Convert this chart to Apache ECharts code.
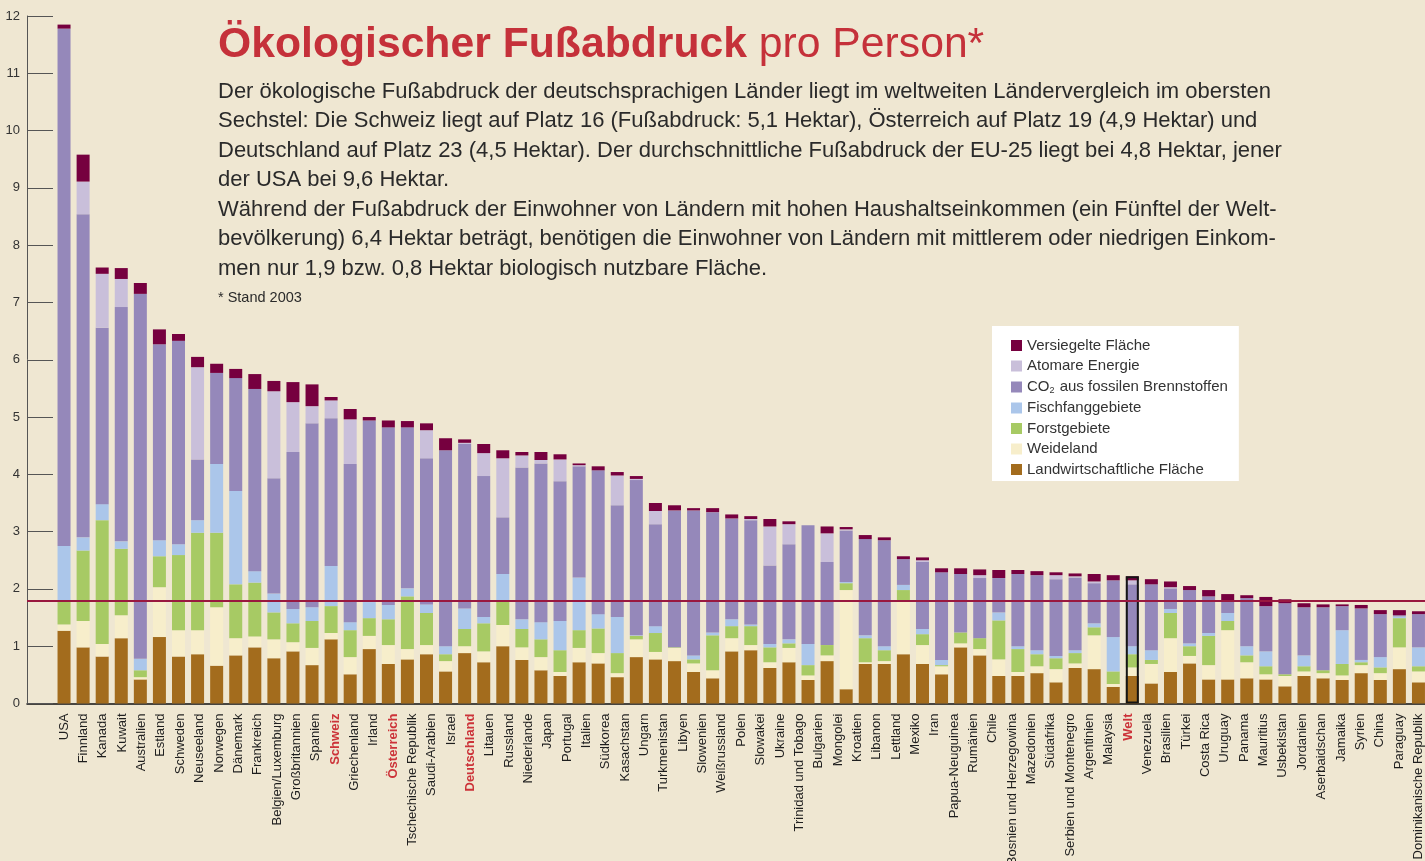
<!DOCTYPE html>
<html><head><meta charset="utf-8">
<script src="https://cdn.jsdelivr.net/npm/echarts@6/dist/echarts.min.js"></script>
<style>html,body{margin:0;padding:0;background:#efe7d2;}#c{width:1425px;height:861px;}</style>
</head><body><div id="c"></div>
<script>
// Country labels (71 labels under 72 bars, as in the original graphic)
const labels = ['USA','Finnland','Kanada','Kuwait','Australien','Estland','Schweden','Neuseeland','Norwegen','Dänemark','Frankreich','Belgien/Luxemburg','Großbritannien','Spanien','Schweiz','Griechenland','Irland','Österreich','Tschechische Republik','Saudi-Arabien','Israel','Deutschland','Litauen','Russland','Niederlande','Japan','Portugal','Italien','Südkorea','Kasachstan','Ungarn','Turkmenistan','Libyen','Slowenien','Weißrussland','Polen','Slowakei','Ukraine','Trinidad und Tobago','Bulgarien','Mongolei','Kroatien','Libanon','Lettland','Mexiko','Iran','Papua-Neuguinea','Rumänien','Chile','Bosnien und Herzegowina','Mazedonien','Südafrika','Serbien und Montenegro','Argentinien','Malaysia','Welt','Venezuela','Brasilien','Türkei','Costa Rica','Uruguay','Panama','Mauritius','Usbekistan','Jordanien','Aserbaidschan','Jamaika','Syrien','China','Paraguay','Dominikanische Republik'];
const highlighted = ['Schweiz','Österreich','Deutschland','Welt'];

// Hectares per person, per component (72 bars)
const agri    = [1.27,0.98,0.82,1.14,0.42,1.16,0.82,0.86,0.66,0.84,0.98,0.79, 0.91,0.67,1.12,0.51,0.95,0.69,0.77,0.86,0.56,0.88,0.72,1.00, 0.76,0.58,0.48,0.72,0.70,0.46,0.81,0.77,0.74,0.55,0.44,0.91, 0.93,0.62,0.72,0.41,0.74,0.25,0.69,0.69,0.86,0.69,0.51,0.98, 0.84,0.48,0.48,0.53,0.37,0.62,0.60,0.29,0.48,0.35,0.55,0.70, 0.42,0.42,0.44,0.42,0.30,0.48,0.44,0.41,0.53,0.41,0.60,0.37];
const pasture = [0.11,0.46,0.22,0.40,0.04,0.87,0.46,0.42,1.02,0.30,0.19,0.33, 0.16,0.30,0.11,0.30,0.23,0.33,0.18,0.16,0.18,0.12,0.19,0.37, 0.22,0.23,0.07,0.25,0.18,0.07,0.31,0.13,0.23,0.15,0.14,0.23, 0.09,0.10,0.25,0.08,0.10,1.73,0.03,0.05,0.94,0.33,0.14,0.07, 0.11,0.29,0.07,0.12,0.23,0.08,0.59,0.05,0.15,0.34,0.59,0.13, 0.25,0.86,0.28,0.09,0.18,0.08,0.09,0.08,0.14,0.12,0.38,0.19];
const forest  = [0.40,1.23,2.16,1.16,0.12,0.54,1.31,1.70,1.30,0.94,0.94,0.47, 0.33,0.47,0.47,0.47,0.31,0.45,0.92,0.56,0.12,0.30,0.49,0.43, 0.32,0.31,0.38,0.31,0.43,0.35,0.06,0.33,0.01,0.07,0.61,0.21, 0.33,0.26,0.08,0.18,0.18,0.12,0.42,0.19,0.18,0.19,0.02,0.19, 0.19,0.68,0.40,0.21,0.19,0.18,0.14,0.22,0.23,0.07,0.44,0.17, 0.51,0.16,0.12,0.14,0.03,0.09,0.05,0.20,0.05,0.10,0.51,0.09];
const fish    = [0.97,0.23,0.28,0.13,0.20,0.28,0.19,0.22,1.20,1.63,0.20,0.33, 0.25,0.24,0.70,0.14,0.28,0.25,0.14,0.15,0.14,0.36,0.11,0.46, 0.17,0.30,0.51,0.92,0.25,0.63,0.01,0.12,0.00,0.07,0.05,0.12, 0.03,0.06,0.07,0.37,0.00,0.02,0.05,0.07,0.09,0.09,0.09,0.00, 0.00,0.14,0.05,0.07,0.04,0.05,0.07,0.60,0.14,0.17,0.07,0.05, 0.05,0.14,0.16,0.26,0.00,0.19,0.00,0.59,0.04,0.18,0.03,0.33];
const co2     = [9.03,5.64,3.08,4.09,6.37,3.42,3.55,1.06,1.59,1.97,3.18,2.01, 2.74,3.21,2.58,2.76,3.17,3.10,2.81,2.55,3.42,2.87,2.46,0.99, 2.65,2.77,2.44,1.94,2.51,1.95,2.71,1.78,2.39,2.53,2.10,1.76, 1.82,1.37,1.66,2.07,1.45,0.90,1.68,1.85,0.45,1.17,1.53,1.02, 1.05,0.60,1.26,1.31,1.34,1.27,0.70,0.99,1.08,1.15,0.36,0.93, 0.64,0.21,0.84,0.79,1.24,0.84,1.10,0.42,0.90,0.75,0.02,0.58];
const nuclear = [0.00,0.57,0.94,0.49,0.00,0.00,0.00,1.61,0.00,0.00,0.00,1.52, 0.87,0.30,0.31,0.78,0.00,0.00,0.00,0.49,0.00,0.02,0.40,1.03, 0.21,0.06,0.38,0.02,0.00,0.52,0.02,0.23,0.00,0.00,0.00,0.00, 0.02,0.68,0.35,0.00,0.50,0.02,0.00,0.00,0.00,0.03,0.00,0.00, 0.05,0.00,0.00,0.00,0.07,0.02,0.03,0.00,0.07,0.00,0.02,0.00, 0.00,0.00,0.00,0.00,0.00,0.00,0.00,0.00,0.00,0.00,0.00,0.00];
const built   = [0.07,0.47,0.11,0.19,0.19,0.26,0.12,0.18,0.16,0.16,0.26,0.18, 0.35,0.38,0.06,0.18,0.06,0.12,0.11,0.12,0.21,0.06,0.16,0.14, 0.06,0.14,0.09,0.03,0.07,0.06,0.05,0.14,0.09,0.04,0.07,0.07, 0.05,0.13,0.05,0.00,0.12,0.04,0.07,0.05,0.05,0.05,0.07,0.10, 0.10,0.14,0.07,0.07,0.05,0.05,0.13,0.09,0.07,0.09,0.10,0.07, 0.11,0.12,0.05,0.16,0.07,0.07,0.05,0.03,0.06,0.07,0.09,0.05];
const worldBarIndex = 56;        // outlined bar
const biocapacity = 1.8;         // red reference line
const yMin = 0, yMax = 12, yStep = 1;

const seriesDefs = [
  {name:'Landwirtschaftliche Fläche', data:agri,    color:'#a36c1d'},
  {name:'Weideland',                  data:pasture, color:'#f7eecb'},
  {name:'Forstgebiete',               data:forest,  color:'#a7ca64'},
  {name:'Fischfanggebiete',           data:fish,    color:'#abc6ea'},
  {name:'CO2 aus fossilen Brennstoffen', data:co2,  color:'#9588ba'},
  {name:'Atomare Energie',            data:nuclear, color:'#c9bfda'},
  {name:'Versiegelte Fläche',         data:built,   color:'#76003f'}
];
const slots = agri.map((_, i) => String(i));
const totals = agri.map((_, i) => seriesDefs.reduce((s, d) => s + d.data[i], 0));

const FONT = '"Liberation Sans", Helvetica, Arial, sans-serif';
const chart = echarts.init(document.getElementById('c'), null, {renderer:'canvas'});

const series = seriesDefs.map(d => ({
  name: d.name, type: 'bar', stack: 'fp', xAxisIndex: 1, yAxisIndex: 1,
  barWidth: 13, barGap: '-100%', data: d.data, itemStyle: {color: d.color}, z: 2, silent: true
}));
series.push({
  name: 'WeltRahmen', type: 'bar', xAxisIndex: 1, yAxisIndex: 1, barWidth: 13, barGap: '-100%',
  data: totals.map((t, i) => i === worldBarIndex ? t : '-'),
  itemStyle: {color: 'rgba(0,0,0,0)', borderColor: '#151515', borderWidth: 2}, z: 4, silent: true
});
series.push({
  name: 'ref', type: 'line', xAxisIndex: 0, yAxisIndex: 0, data: [[0, 0], [1, 0]],
  showSymbol: false, lineStyle: {opacity: 0}, silent: true, z: 6,
  markLine: {silent: true, symbol: ['none','none'], label: {show: false},
    lineStyle: {color: '#99183f', width: 2, type: 'solid'}, data: [{yAxis: biocapacity}]}
});

chart.setOption({
  animation: false,
  backgroundColor: '#efe7d2',
  grid: [
    {left: 27, right: 0, top: 16, bottom: 157.5, containLabel: false, outerBoundsMode: 'none'},
    {left: 54.5, width: 1373.5, top: 16, bottom: 157.5, containLabel: false, outerBoundsMode: 'none'}
  ],
  xAxis: [
    {gridIndex: 0, type: 'value', min: 0, max: 1, axisLine: {show: true, lineStyle: {color: '#111', width: 1.5}},
      axisTick: {show: false}, axisLabel: {show: false}, splitLine: {show: false}},
    {gridIndex: 1, type: 'category', data: slots, position: 'bottom', show: false},
    {gridIndex: 1, type: 'category', data: labels, position: 'bottom',
      axisLine: {show: false}, axisTick: {show: false}, splitLine: {show: false},
      axisLabel: {interval: 0, rotate: 90, margin: 10, fontSize: 13, fontFamily: FONT, color: '#1e1e1e',
        hideOverlap: false,
        formatter: v => highlighted.includes(v) ? '{r|' + v + '}' : v,
        rich: {r: {color: '#cc3339', fontWeight: 'bold', fontSize: 13, fontFamily: FONT}}}}
  ],
  yAxis: [
    {gridIndex: 0, type: 'value', min: yMin, max: yMax, interval: yStep,
      axisLine: {show: true, lineStyle: {color: '#555', width: 1}},
      axisTick: {show: true, inside: true, length: 26, lineStyle: {color: '#555', width: 1}},
      axisLabel: {color: '#333', fontSize: 13, fontFamily: FONT, margin: 7},
      splitLine: {show: false}},
    {gridIndex: 1, type: 'value', min: yMin, max: yMax, show: false}
  ],
  legend: {
    data: seriesDefs.map(d => d.name).reverse(),
    orient: 'vertical', left: 992, top: 326,
    backgroundColor: '#ffffff', padding: [12, 11, 4, 19],
    itemWidth: 11, itemHeight: 11, itemGap: 5.5, icon: 'rect',
    selectedMode: false,
    textStyle: {fontSize: 15, color: '#333', fontFamily: FONT, lineHeight: 15,
      rich: {t: {fontSize: 15, color: '#333', fontFamily: FONT, lineHeight: 15},
             s: {fontSize: 9, color: '#333', fontFamily: FONT, lineHeight: 15, padding: [7, 1, 0, 0]}}},
    formatter: n => n.startsWith('CO2') ? '{t|CO}{s|2}{t|' + n.slice(3) + '}' : n
  },
  graphic: [
    {type: 'text', x: 218, y: 45, silent: true, style: {
      text: '{b|Ökologischer Fußabdruck }{r|pro Person*}', verticalAlign: 'middle',
      rich: {b: {fontSize: 42.7, fontWeight: 'bold', fill: '#c5313a', fontFamily: FONT},
             r: {fontSize: 42.7, fill: '#c5313a', fontFamily: FONT}}}},
    {type: 'text', x: 218, y: 77, silent: true, style: {
      text: [
        'Der ökologische Fußabdruck der deutschsprachigen Länder liegt im weltweiten Ländervergleich im obersten',
        'Sechstel: Die Schweiz liegt auf Platz 16 (Fußabdruck: 5,1 Hektar), Österreich auf Platz 19 (4,9 Hektar) und',
        'Deutschland auf Platz 23 (4,5 Hektar). Der durchschnittliche Fußabdruck der EU-25 liegt bei 4,8 Hektar, jener',
        'der USA bei 9,6 Hektar.',
        'Während der Fußabdruck der Einwohner von Ländern mit hohen Haushaltseinkommen (ein Fünftel der Welt-',
        'bevölkerung) 6,4 Hektar beträgt, benötigen die Einwohner von Ländern mit mittlerem oder niedrigen Einkom-',
        'men nur 1,9 bzw. 0,8 Hektar biologisch nutzbare Fläche.'
      ].join('\n'),
      fontSize: 22, lineHeight: 29.5, fill: '#2a2a2a', fontFamily: FONT, verticalAlign: 'top'}},
    {type: 'text', x: 218, y: 298, silent: true, style: {
      text: '* Stand 2003', fontSize: 14.5, fill: '#2a2a2a', fontFamily: FONT, verticalAlign: 'middle'}}
  ],
  series: series
});
</script></body></html>
